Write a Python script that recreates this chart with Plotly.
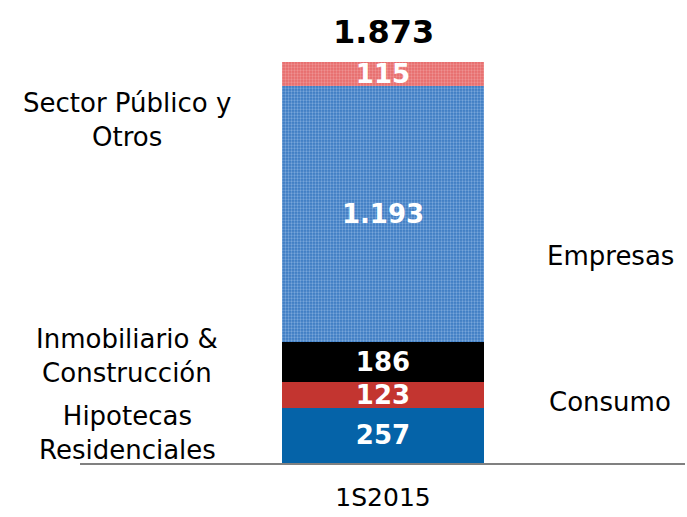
import plotly.graph_objects as go

categories = ["1S2015"]
segments = ["Hipotecas Residenciales", "Consumo", "Inmobiliario & Construcción", "Empresas", "Sector Público y Otros"]
values = [257, 123, 186, 1193, 115]
total_label = 1873
colors = ["#0563A8", "#C33530", "#000000", "#3A7AC2", "#E66A6A"]
pattern_fg = [None, None, None, "#B4D0F0", "#F6B8B8"]

FONT = "DejaVu Sans"
fig = go.Figure()
for name, v, c, pf in zip(segments, values, colors, pattern_fg):
    marker = dict(color=c, line=dict(width=0))
    if pf:
        marker["pattern"] = dict(shape=".", fgcolor=pf, bgcolor=c, size=3, solidity=0.45, fillmode="overlay")
    fig.add_trace(go.Bar(
        x=[0], y=[v], name=name, width=1, marker=marker,
        text=[v], texttemplate="<b>%{y:,}</b>", textposition="inside",
        insidetextanchor="middle", constraintext="none",
        textfont=dict(family=FONT, size=26, color="white"),
        showlegend=False, hoverinfo="skip",
    ))

# total label
fig.add_annotation(x=0, y=sum(values), text="<b>" + f"{total_label:,}".replace(",", ".") + "</b>",
                   showarrow=False, yanchor="bottom", yshift=9,
                   font=dict(family=FONT, size=32, color="black"))

# side labels: (text, x, y)
side_labels = [
    ("Sector Público y<br>Otros", -1.267, 1602),
    ("Empresas", 1.124, 967),
    ("Inmobiliario &<br>Construcción", -1.267, 500),
    ("Consumo", 1.124, 285),
    ("Hipotecas<br>Residenciales", -1.267, 140),
]
for t, x, y in side_labels:
    fig.add_annotation(x=x, y=y, text=t, showarrow=False, align="center",
                       font=dict(family=FONT, size=26, color="black"))

fig.update_layout(
    width=687, height=517,
    margin=dict(l=80, r=2, t=0, b=54),
    barmode="stack", separators=",.",
    plot_bgcolor="white", paper_bgcolor="white",
    xaxis=dict(range=[-1.5, 1.495], tickvals=[0], ticktext=categories,
               showline=True, linecolor="#808080", linewidth=2,
               showgrid=False, zeroline=False, ticks="",
               ticklabelstandoff=11, automargin=False,
               tickfont=dict(family=FONT, size=25, color="black")),
    yaxis=dict(range=[0, 2162.6], visible=False, showgrid=False, zeroline=False),
)
fig.write_html("out.html", config={"displayModeBar": False},
               post_script="document.body.style.margin='0';")
